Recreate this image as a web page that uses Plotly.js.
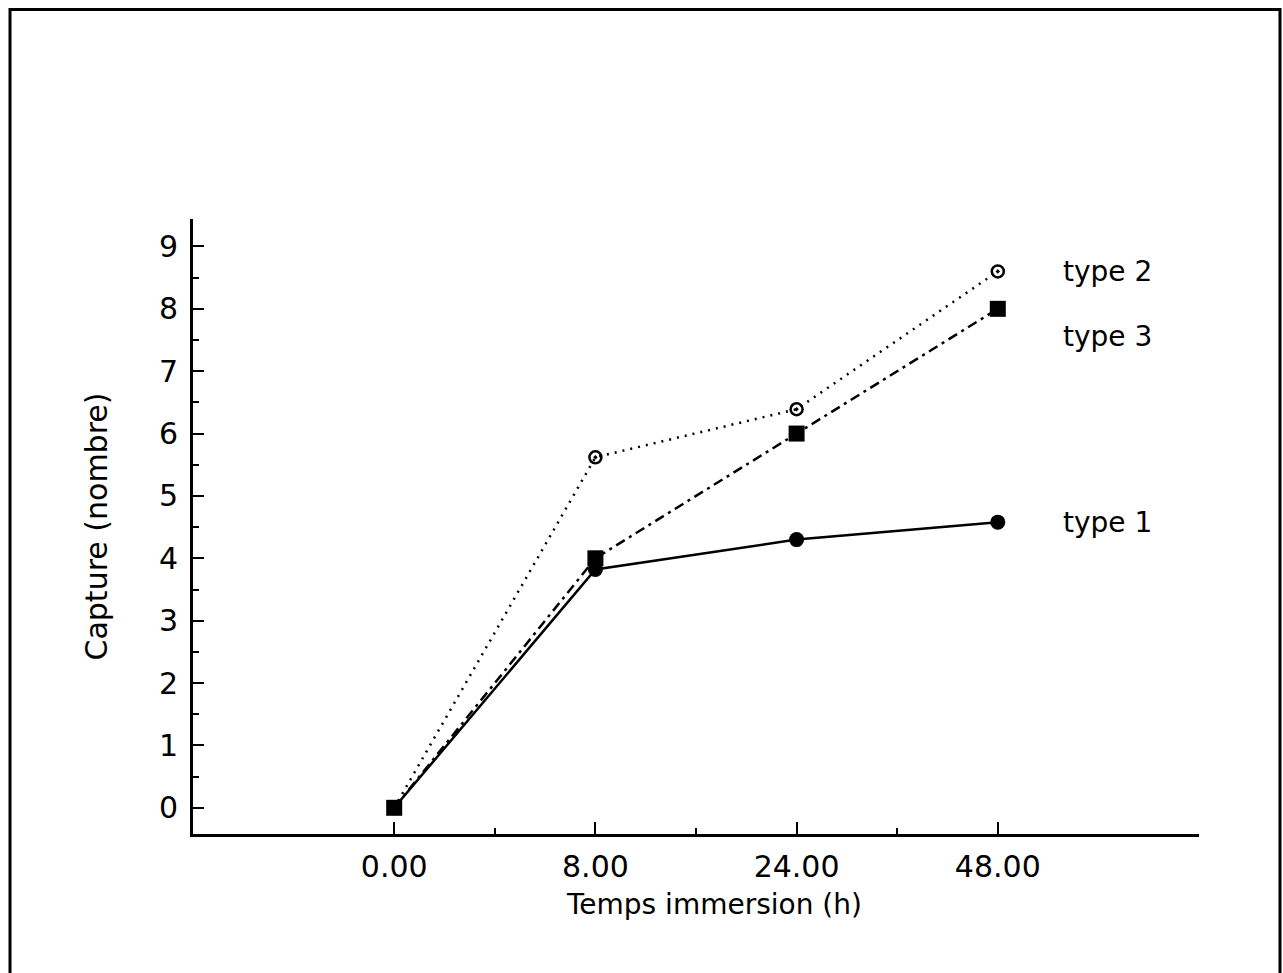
<!DOCTYPE html>
<html>
<head>
<meta charset="utf-8">
<script src="https://cdn.plot.ly/plotly-3.0.1.min.js"></script>
<style>
html,body{margin:0;padding:0;background:#fff;}
#chart{width:1283px;height:973px;}
</style>
</head>
<body>
<div id="chart"></div>
<script>
// Data
var categories = ["0.00", "8.00", "24.00", "48.00"];
var seriesNames = ["type 1", "type 2", "type 3"];
var type1 = [0, 3.82, 4.30, 4.58];
var type2 = [0, 5.62, 6.39, 8.60];
var type3 = [0, 4.0, 6.0, 8.0];
var yTickVals = [0, 1, 2, 3, 4, 5, 6, 7, 8, 9];
var xMinorVals = [0.5, 1.5, 2.5];
var xTitle = "Temps immersion (h)";
var yTitle = "Capture (nombre)";

var xIdx = categories.map(function (c, i) { return i; });
var FONT = "DejaVu Sans, Arial, sans-serif";

var traces = [
  {
    x: xIdx, y: type1, name: seriesNames[0], mode: "lines+markers",
    line: {color: "#000", width: 2.5, dash: "solid"},
    marker: {symbol: "circle", size: 15, color: "#000"}
  },
  {
    x: xIdx, y: type2, name: seriesNames[1], mode: "lines+markers",
    line: {color: "#000", width: 2.5, dash: "2px,6px"},
    marker: {symbol: "circle-open-dot", size: 12, color: "#000", line: {width: 2.5, color: "#000"}}
  },
  {
    x: xIdx, y: type3, name: seriesNames[2], mode: "lines+markers",
    line: {color: "#000", width: 2.5, dash: "10px,5px,3px,5px"},
    marker: {symbol: "square", size: 16, color: "#000"}
  }
];

var series = [type1, type2, type3];
var yShifts = [0, 0, -28];
var annotations = seriesNames.map(function (n, i) {
  var v = series[i];
  return {
    x: xIdx[xIdx.length - 1], y: v[v.length - 1], xref: "x", yref: "y",
    text: n, showarrow: false, xanchor: "left", yanchor: "middle",
    xshift: 63, yshift: yShifts[i],
    font: {family: FONT, size: 28, color: "#000"}
  };
});
annotations.push({
  x: 0.518, y: -0.1154, xref: "paper", yref: "paper",
  text: xTitle, showarrow: false, xanchor: "center", yanchor: "middle",
  font: {family: FONT, size: 28, color: "#000"}
});

var layout = {
  width: 1283, height: 973,
  margin: {l: 193, r: 84, t: 219, b: 139},
  paper_bgcolor: "#fff", plot_bgcolor: "#fff",
  showlegend: false,
  font: {family: FONT, color: "#000"},
  xaxis: {
    range: [-1, 4],
    tickmode: "array", tickvals: xIdx, ticktext: categories,
    ticks: "inside", ticklen: 12, tickwidth: 2, tickcolor: "#000",
    minor: {tickmode: "array", tickvals: xMinorVals, ticks: "inside", ticklen: 6, tickwidth: 2, tickcolor: "#000"},
    showline: true, linewidth: 3, linecolor: "#000",
    showgrid: false, zeroline: false,
    tickfont: {family: FONT, size: 30, color: "#000"},
    ticklabelstandoff: 4
  },
  yaxis: {
    range: [-0.42, 9.44],
    tickmode: "array", tickvals: yTickVals,
    ticks: "inside", ticklen: 11, tickwidth: 2, tickcolor: "#000",
    minor: {dtick: 0.5, tick0: 0, ticks: "inside", ticklen: 6, tickwidth: 2, tickcolor: "#000"},
    showline: true, linewidth: 3, linecolor: "#000",
    showgrid: false, zeroline: false,
    tickfont: {family: FONT, size: 30, color: "#000"},
    ticklabelstandoff: 6,
    title: {text: yTitle, font: {family: FONT, size: 30, color: "#000"}, standoff: 43}
  },
  annotations: annotations,
  shapes: [
    {type: "rect", xref: "paper", yref: "paper",
     x0: -0.1819, x1: 1.0805, y0: -0.26, y1: 1.3407,
     line: {color: "#000", width: 3}, fillcolor: "rgba(0,0,0,0)", layer: "below"}
  ]
};

Plotly.newPlot("chart", traces, layout, {staticPlot: true, displayModeBar: false});
</script>
</body>
</html>
